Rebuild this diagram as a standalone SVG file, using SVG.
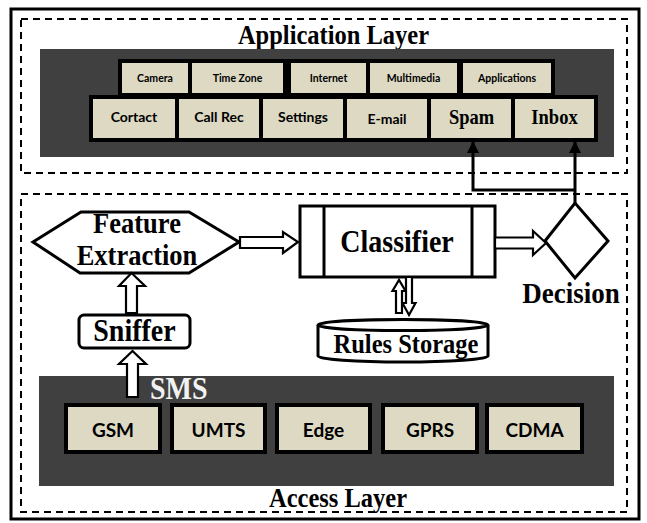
<svg xmlns="http://www.w3.org/2000/svg" width="647" height="523" viewBox="0 0 647 523">
<style>
.frame{fill:none;stroke:#000;stroke-width:3}
.dash{fill:none;stroke:#000;stroke-width:2;stroke-dasharray:7 5}
.dark{fill:#404040}
.cell{fill:#DDD9C3;stroke:#000;stroke-width:4}
.shape{fill:#fff;stroke:#000;stroke-width:3}
.barrow{fill:#fff;stroke:#000;stroke-width:2.2;stroke-linejoin:miter}
.line{fill:none;stroke:#000;stroke-width:3}
.ser{font-family:"Liberation Serif","Times New Roman",serif;font-weight:bold;fill:#000;text-anchor:middle}
.sans{font-family:Lato,"Liberation Sans",sans-serif;font-weight:bold;fill:#000;text-anchor:middle}
.s10{font-size:10.5px}
.s14{font-size:14px}
.s19{font-size:19px}
</style>
<defs>
<marker id="ah" viewBox="0 0 10 10" refX="10" refY="5" markerWidth="4" markerHeight="4.5" orient="auto" markerUnits="strokeWidth">
<path d="M0,0 L10,5 L0,10 z" fill="#000"/>
</marker>
</defs>
<rect width="647" height="523" fill="#fff"/>
<rect class="frame" x="11" y="9" width="628" height="510"/>

<g id="application-layer">
<rect class="dash" x="21" y="19" width="606" height="154"/>
<text class="ser" transform="translate(333.5,44) scale(1,1.14)" font-size="24.5">Application Layer</text>
<rect class="dark" x="40" y="49" width="574" height="108"/>
</g>

<g id="camera"><rect class="cell" x="120" y="61" width="70" height="34"/><text class="sans s10" x="155" y="82">Camera</text></g>
<g id="time-zone"><rect class="cell" x="190" y="61" width="95" height="34"/><text class="sans s10" x="237.5" y="82">Time Zone</text></g>
<g id="internet"><rect class="cell" x="289" y="61" width="79" height="34"/><text class="sans s10" x="328.5" y="82">Internet</text></g>
<g id="multimedia"><rect class="cell" x="368" y="61" width="91" height="34"/><text class="sans s10" x="413.5" y="82">Multimedia</text></g>
<g id="applications"><rect class="cell" x="461" y="61" width="92" height="34"/><text class="sans s10" x="507" y="82">Applications</text></g>

<g id="cortact"><rect class="cell" x="91" y="97" width="86" height="43"/><text class="sans s14" x="134" y="122">Cortact</text></g>
<g id="call-rec"><rect class="cell" x="177" y="97" width="84" height="43"/><text class="sans s14" x="219" y="122">Call Rec</text></g>
<g id="settings"><rect class="cell" x="261" y="97" width="84" height="43"/><text class="sans s14" x="303" y="122">Settings</text></g>
<g id="e-mail"><rect class="cell" x="345" y="97" width="84" height="43"/><text class="sans s14" x="387" y="124">E-mail</text></g>
<g id="spam"><rect class="cell" x="429" y="97" width="84" height="43"/><text class="ser" transform="translate(471.5,124) scale(1,1.1)" font-size="18.5">Spam</text></g>
<g id="inbox"><rect class="cell" x="513" y="97" width="83" height="43"/><text class="ser" transform="translate(554.5,124) scale(1,1.1)" font-size="18.5">Inbox</text></g>

<g id="access-layer">
<rect class="dash" x="21" y="194" width="606" height="318"/>
<rect class="dark" x="39" y="376" width="575" height="110"/>
<text class="ser" transform="translate(338,507) scale(1,1.12)" font-size="24.5">Access Layer</text>
<text transform="translate(150,399) scale(1,1.1)" font-family="Liberation Serif,'Times New Roman',serif" font-weight="bold" font-size="28" fill="#f2f2f2">SMS</text>
</g>

<g id="gsm"><rect class="cell" x="66" y="405" width="94" height="47"/><text class="sans s19" x="113" y="437">GSM</text></g>
<g id="umts"><rect class="cell" x="172" y="405" width="93" height="47"/><text class="sans s19" x="218.5" y="437">UMTS</text></g>
<g id="edge"><rect class="cell" x="277" y="405" width="93" height="47"/><text class="sans s19" x="323.5" y="437">Edge</text></g>
<g id="gprs"><rect class="cell" x="383" y="405" width="94" height="47"/><text class="sans s19" x="430" y="437">GPRS</text></g>
<g id="cdma"><rect class="cell" x="487" y="405" width="95" height="47"/><text class="sans s19" x="534.5" y="437">CDMA</text></g>

<g id="feature-extraction">
<polygon class="shape" points="33,242 81,212 189,212 239,242 189,273 80,273"/>
<text class="ser" transform="translate(137,233) scale(1,1.1)" font-size="26.5">Feature</text>
<text class="ser" transform="translate(137,265) scale(1,1.1)" font-size="26.5">Extraction</text>
</g>

<g id="sniffer">
<rect class="shape" x="79" y="315" width="111" height="33" rx="5"/>
<text class="ser" transform="translate(134.5,341) scale(1,1.1)" font-size="28">Sniffer</text>
</g>

<g id="classifier">
<rect class="shape" x="300" y="206" width="195" height="71"/>
<line class="line" x1="324" y1="206" x2="324" y2="277"/>
<line class="line" x1="472" y1="206" x2="472" y2="277"/>
<text class="ser" transform="translate(397,252) scale(1,1.1)" font-size="28">Classifier</text>
</g>

<g id="decision">
<polygon class="shape" points="545,241 575,203 608,241 575,278"/>
<text class="ser" transform="translate(571,303) scale(1,1.1)" font-size="27">Decision</text>
</g>

<g id="rules-storage">
<path class="shape" d="M318,325 L318,356 A85,6 0 0 0 488,356 L488,325"/>
<ellipse class="shape" cx="403" cy="325" rx="85" ry="5.5"/>
<text class="ser" transform="translate(406,353) scale(1,1.1)" font-size="24.5">Rules Storage</text>
</g>

<g id="connectors">
<polygon class="barrow" points="240,237 283,237 283,232 298,242 283,253 283,248 240,248"/>
<polygon class="barrow" points="495,237.5 533,237.5 533,231 546,243 533,255 533,248.5 495,248.5"/>
<polygon class="barrow" points="126,313 126,286 119,286 131.5,273 145,286 137,286 137,313"/>
<polygon class="barrow" points="127,397 127,364 119,364 132.5,351 146,364 138,364 138,397"/>
<polygon class="barrow" points="396,313 396,291 392.5,291 399,280 405.5,291 402,291 402,313"/>
<polygon class="barrow" points="406,277 406,303 402.5,303 409,315 415.5,303 412,303 412,277"/>
<path class="line" d="M575,203 L575,141" marker-end="url(#ah)"/>
<path class="line" d="M575,190 L473,190 L473,141" marker-end="url(#ah)"/>
</g>
</svg>
